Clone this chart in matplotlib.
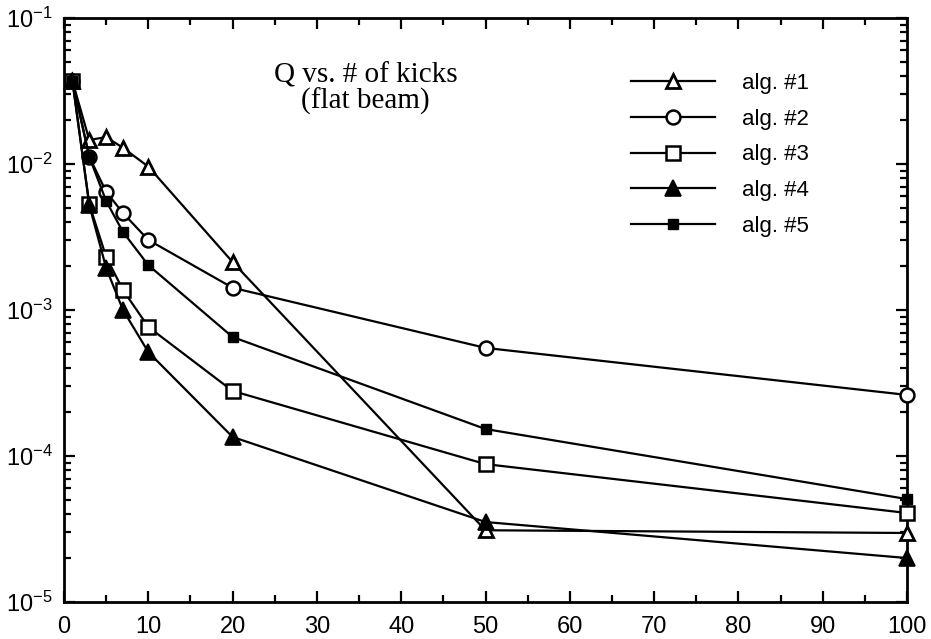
import math
import matplotlib
matplotlib.use("Agg")
import matplotlib.pyplot as plt
from matplotlib.ticker import FixedLocator, LogLocator, NullFormatter, FuncFormatter

plt.rcParams['font.family'] = ['Liberation Sans', 'DejaVu Sans']
plt.rcParams['mathtext.fontset'] = 'custom'
plt.rcParams['mathtext.rm'] = 'Liberation Sans'
plt.rcParams['mathtext.default'] = 'regular'

kicks = [1, 3, 5, 7, 10, 20, 50, 100]
alg1 = [0.037, 0.0146, 0.0153, 0.0129, 0.0096, 0.00213, 3.1e-5, 2.97e-5]
alg2 = [0.037, 0.0112, 0.00645, 0.00461, 0.00302, 0.00142, 5.5e-4, 2.62e-4]
alg3 = [0.037, 0.0053, 0.00231, 0.00137, 7.66e-4, 2.79e-4, 8.8e-5, 4.07e-5]
alg4 = [0.037, 0.00523, 0.00194, 0.00100, 5.15e-4, 1.35e-4, 3.53e-5, 2.0e-5]
alg5 = [0.037, 0.0112, 0.00558, 0.00342, 0.00203, 6.53e-4, 1.53e-4, 5.07e-5]
labels = ['alg. #1', 'alg. #2', 'alg. #3', 'alg. #4', 'alg. #5']
xticks = [0, 10, 20, 30, 40, 50, 60, 70, 80, 90, 100]
xminor = [5, 15, 25, 35, 45, 55, 65, 75, 85, 95]

fig = plt.figure(figsize=(9.31, 6.39), dpi=100)
ax = fig.add_axes([64/931, 37/639, 843/931, 584/639])

lw = 1.6
styles = [
    dict(marker='^', ms=10.5, mfc='white', mec='black', mew=2),
    dict(marker='o', ms=10, mfc='white', mec='black', mew=1.8),
    dict(marker='s', ms=9.5, mfc='white', mec='black', mew=1.8),
    dict(marker='^', ms=11, mfc='black', mec='black', mew=1.2),
    dict(marker='s', ms=7, mfc='black', mec='black', mew=1),
]
series = [alg1, alg2, alg3, alg4, alg5]
handles = []
for ys, st, lab in zip(series, styles, labels):
    h, = ax.plot(kicks, ys, color='black', lw=lw, label=lab, clip_on=False, zorder=3, **st)
    handles.append(h)

ax.set_yscale('log')
ax.set_xlim(0, 100)
ax.set_ylim(1e-5, 1e-1)
ax.xaxis.set_major_locator(FixedLocator(xticks))
ax.xaxis.set_minor_locator(FixedLocator(xminor))
ax.yaxis.set_major_locator(LogLocator(base=10, numticks=10))
ax.yaxis.set_minor_locator(LogLocator(base=10, subs=range(2, 10), numticks=20))
ax.yaxis.set_minor_formatter(NullFormatter())
ax.yaxis.set_major_formatter(FuncFormatter(lambda v, p: r'$10^{%d}$' % round(math.log10(v))))

for s in ax.spines.values():
    s.set_linewidth(2)
ax.tick_params(which='both', direction='in', top=True, right=True, width=1.6, labelsize=17)
ax.tick_params(which='major', length=8)
ax.tick_params(which='minor', length=5)
ax.tick_params(axis='x', which='major', pad=10)
ax.tick_params(axis='y', which='major', pad=8)

ax.text(35.8, 0.0327, 'Q vs. # of kicks\n(flat beam)', ha='center', va='center',
        fontsize=21, family=['Liberation Serif', 'DejaVu Serif'], linespacing=0.95)

leg = ax.legend(handles=handles, loc='upper left',
                bbox_to_anchor=((631-64)/843, (602-73)/584),
                frameon=False, fontsize=16, handlelength=3.8, handletextpad=1.2,
                labelspacing=0.66, borderpad=0, borderaxespad=0)

fig.savefig('out.png', dpi=100)
